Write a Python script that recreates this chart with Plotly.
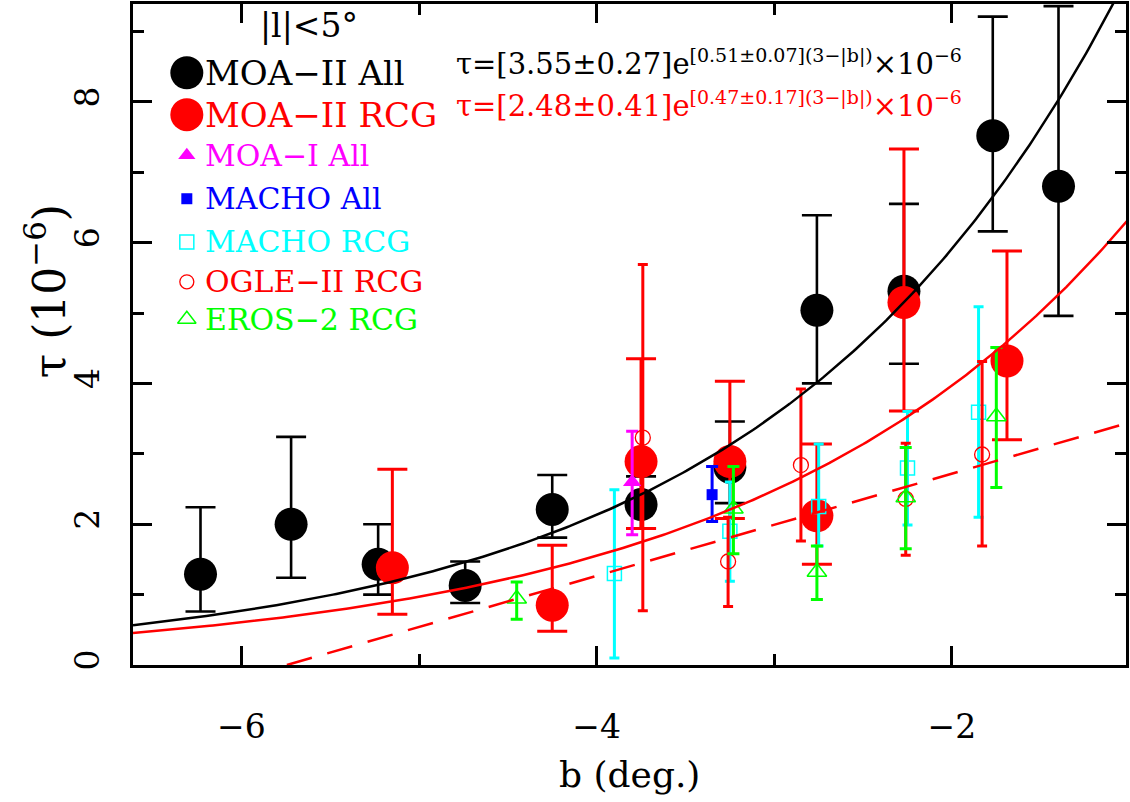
import numpy as np
import plotly.graph_objects as go

# ---------------- data ----------------
moa2_all_b   = [-6.23, -5.72, -5.23, -4.74, -4.25, -3.75, -3.25, -2.76, -2.27, -1.77, -1.40]
moa2_all_tau = [1.29, 2.00, 1.43, 1.13, 2.21, 2.28, 2.81, 5.04, 5.31, 7.52, 6.80]
moa2_all_hi  = [2.24, 3.24, 2.00, 1.47, 2.70, 2.68, 3.46, 6.39, 6.55, 9.21, 9.36]
moa2_all_lo  = [0.76, 1.24, 1.00, 0.88, 1.81, 1.94, 2.30, 4.00, 4.28, 6.16, 4.96]

moa2_rcg_b   = [-5.15, -4.25, -3.75, -3.25, -2.76, -2.27, -1.69]
moa2_rcg_tau = [1.38, 0.85, 2.89, 2.89, 2.12, 5.15, 4.32]
moa2_rcg_hi  = [2.78, 1.70, 4.35, 4.03, 3.14, 7.33, 5.88]
moa2_rcg_lo  = [0.72, 0.48, 1.94, 2.08, 1.43, 3.61, 3.20]

moa1_all_b   = [-3.80]
moa1_all_tau = [2.60]
moa1_all_hi  = [3.32]
moa1_all_lo  = [1.85]

macho_all_b   = [-3.35]
macho_all_tau = [2.42]
macho_all_hi  = [2.82]
macho_all_lo  = [2.04]

macho_rcg_b   = [-3.90, -3.25, -2.75, -2.25, -1.85]
macho_rcg_tau = [1.30, 1.90, 2.25, 2.80, 3.59]
macho_rcg_hi  = [2.49, 2.60, 3.14, 3.60, 5.09]
macho_rcg_lo  = [0.10, 1.19, 1.69, 1.99, 2.10]

ogle_rcg_b   = [-3.74, -3.26, -2.85, -2.26, -1.83]
ogle_rcg_tau = [3.23, 1.47, 2.84, 2.36, 2.99]
ogle_rcg_hi  = [5.69, 2.10, 3.92, 3.15, 4.31]
ogle_rcg_lo  = [0.77, 0.83, 1.76, 1.56, 1.69]

eros_rcg_b   = [-4.45, -3.23, -2.76, -2.26, -1.75]
eros_rcg_tau = [0.94, 2.22, 1.32, 2.38, 3.53]
eros_rcg_hi  = [1.18, 2.82, 1.69, 3.09, 4.51]
eros_rcg_lo  = [0.65, 1.58, 0.93, 1.65, 2.52]

# fit parameters (tau = A * exp(k * (3 - |b|)))
fit_all = (3.55, 0.51)
fit_rcg = (2.48, 0.47)
# linear dashed fit: tau = c0 + c1 * b
lin_fit = (4.17, 0.726)

x_tickvals = [-6, -4, -2]
x_ticktext = ["−6", "−4", "−2"]
y_tickvals = [0, 2, 4, 6, 8]

# ---------------- figure ----------------
FONT = "DejaVu Serif"
fig = go.Figure()

def errs(tau, hi, lo):
    return [h - t for h, t in zip(hi, tau)], [t - l for t, l in zip(tau, lo)]

def add_series(b, tau, hi, lo, color, symbol, size, capw, thick, line_w=0):
    plus, minus = errs(tau, hi, lo)
    fig.add_trace(go.Scatter(
        x=b, y=tau, mode="markers",
        marker=dict(symbol=symbol, size=size, color=color,
                    line=dict(width=line_w, color=color)),
        error_y=dict(type="data", symmetric=False, array=plus, arrayminus=minus,
                     color=color, thickness=thick, width=capw),
        showlegend=False))

add_series(moa2_all_b, moa2_all_tau, moa2_all_hi, moa2_all_lo, "black", "circle", 33, 15, 2.6)
add_series(moa2_rcg_b, moa2_rcg_tau, moa2_rcg_hi, moa2_rcg_lo, "#ff0000", "circle", 33, 15, 3)
add_series(moa1_all_b, moa1_all_tau, moa1_all_hi, moa1_all_lo, "#ff00ff", "triangle-up", 16, 6, 3)
add_series(macho_all_b, macho_all_tau, macho_all_hi, macho_all_lo, "#0000ff", "square", 11, 6, 3)
add_series(macho_rcg_b, macho_rcg_tau, macho_rcg_hi, macho_rcg_lo, "#00ffff", "square-open", 14, 5, 3, 1.5)
add_series(ogle_rcg_b, ogle_rcg_tau, ogle_rcg_hi, ogle_rcg_lo, "#ff0000", "circle-open", 15, 5, 3, 1.3)
add_series(eros_rcg_b, eros_rcg_tau, eros_rcg_hi, eros_rcg_lo, "#00ff00", "triangle-up-open", 17, 6, 3, 1.5)

bb = np.linspace(-6.61, -1.0, 300)
fig.add_trace(go.Scatter(x=bb, y=fit_all[0] * np.exp(fit_all[1] * (3 - np.abs(bb))),
                         mode="lines", line=dict(color="black", width=2.5), showlegend=False))
fig.add_trace(go.Scatter(x=bb, y=fit_rcg[0] * np.exp(fit_rcg[1] * (3 - np.abs(bb))),
                         mode="lines", line=dict(color="#ff0000", width=2.5), showlegend=False))
bl = np.linspace(-lin_fit[0] / lin_fit[1], -1.0, 50)
fig.add_trace(go.Scatter(x=bl, y=lin_fit[0] + lin_fit[1] * bl,
                         mode="lines", line=dict(color="#ff0000", width=2.5, dash="26px,16px"),
                         showlegend=False))

# ---------------- legend (drawn on overlay axes in 0-1 units) ----------------
legend_items = [
    ("MOA−II All", "black", "circle", 33, 0, 34, 0.0542, 0.896),
    ("MOA−II RCG", "#ff0000", "circle", 33, 0, 34, 0.0542, 0.8326),
    ("MOA−I All", "#ff00ff", "triangle-up", 15, 0, 30, 0.0542, 0.771),
    ("MACHO All", "#0000ff", "square", 11, 0, 30, 0.0542, 0.7054),
    ("MACHO RCG", "#00ffff", "square-open", 14, 1.5, 30, 0.0542, 0.640),
    ("OGLE−II RCG", "#ff0000", "circle-open", 14, 1.3, 30, 0.0542, 0.5797),
    ("EROS−2 RCG", "#00ff00", "triangle-up-open", 16, 1.5, 30, 0.0542, 0.523),
]
annotations = []
for name, col, sym, msz, lw, fsz, lx, ly in legend_items:
    fig.add_trace(go.Scatter(x=[lx], y=[ly], xaxis="x2", yaxis="y2", mode="markers",
                             marker=dict(symbol=sym, size=msz, color=col, line=dict(width=lw, color=col)),
                             showlegend=False, hoverinfo="skip"))
    annotations.append(dict(text=name, x=lx + 0.016, y=ly, xref="x2", yref="y2",
                            xanchor="left", yanchor="middle", showarrow=False,
                            font=dict(family=FONT, size=fsz, color=col)))

SUP = "<sup><span style='font-size:19px'>{}</span></sup>"
eq1 = "τ=[3.55±0.27]e" + SUP.format("[0.51±0.07](3−|b|)") + "×10" + SUP.format("−6")
eq2 = "τ=[2.48±0.41]e" + SUP.format("[0.47±0.17](3−|b|)") + "×10" + SUP.format("−6")

annotations += [
    dict(text="|l|<5°", x=0.1777, y=0.968, xref="paper", yref="paper", showarrow=False,
         xanchor="center", yanchor="middle", font=dict(family=FONT, size=33, color="black")),
    dict(text=eq1, x=0.58, y=0.912, xref="paper", yref="paper", showarrow=False,
         xanchor="center", yanchor="middle", font=dict(family=FONT, size=29, color="black")),
    dict(text=eq2, x=0.58, y=0.848, xref="paper", yref="paper", showarrow=False,
         xanchor="center", yanchor="middle", font=dict(family=FONT, size=29, color="#ff0000")),
    dict(text="τ (10<sup>−6</sup>)", x=-0.088, y=0.565, xref="paper", yref="paper",
         showarrow=False, textangle=-90, xanchor="center", yanchor="middle",
         font=dict(family=FONT, size=44, color="black")),
    dict(text="b (deg.)", x=0.5, y=-0.166, xref="paper", yref="paper", showarrow=False,
         xanchor="center", yanchor="middle", font=dict(family=FONT, size=36, color="black")),
]

axis_common = dict(showline=True, linecolor="black", linewidth=3, mirror="ticks",
                   ticks="inside", ticklen=19, tickwidth=2.5, tickcolor="black",
                   showgrid=False, zeroline=False,
                   tickfont=dict(family=FONT, size=33, color="black"),
                   minor=dict(dtick=1, ticks="inside", ticklen=11, tickwidth=2.5,
                              tickcolor="black", showgrid=False))

fig.update_layout(
    width=1130, height=802,
    margin=dict(l=133, r=1, t=2, b=137),
    paper_bgcolor="white", plot_bgcolor="white",
    showlegend=False,
    xaxis=dict(range=[-6.61, -1.02], tickvals=x_tickvals,
               ticktext=x_ticktext, ticklabelstandoff=30, **axis_common),
    yaxis=dict(range=[0, 9.39], tickvals=y_tickvals, tickangle=-90,
               ticklabelstandoff=18, **axis_common),
    xaxis2=dict(overlaying="x", range=[0, 1], visible=False),
    yaxis2=dict(overlaying="y", range=[0, 1], visible=False),
    annotations=annotations,
)

fig.write_html("out.html", config={"displayModeBar": False},
               post_script="document.body.style.margin='0px';")
